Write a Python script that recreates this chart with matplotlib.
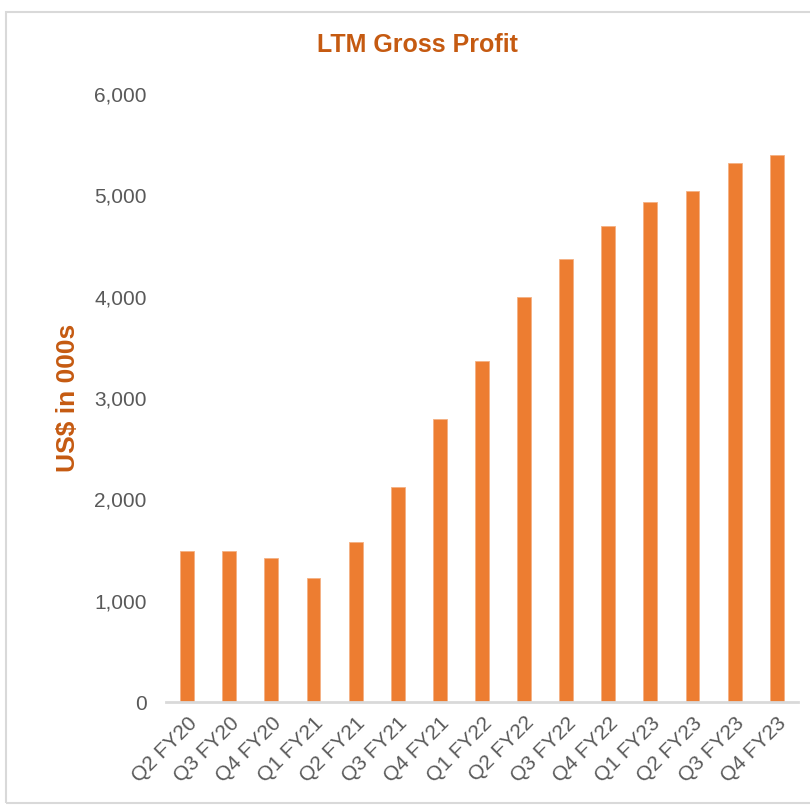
import matplotlib
matplotlib.use("Agg")
import matplotlib.pyplot as plt
from matplotlib.patches import Rectangle
from matplotlib.ticker import FuncFormatter

categories = ["Q2 FY20", "Q3 FY20", "Q4 FY20", "Q1 FY21", "Q2 FY21", "Q3 FY21",
              "Q4 FY21", "Q1 FY22", "Q2 FY22", "Q3 FY22", "Q4 FY22", "Q1 FY23",
              "Q2 FY23", "Q3 FY23", "Q4 FY23"]
gross_profit = [1490, 1490, 1420, 1225, 1580, 2120, 2795, 3365, 3995, 4370,
                4700, 4935, 5045, 5320, 5400]
y_ticks = [0, 1000, 2000, 3000, 4000, 5000, 6000]

plt.rcParams['font.family'] = ['Liberation Sans', 'DejaVu Sans']

fig = plt.figure(figsize=(8.10, 8.07), dpi=100)
fig.patches.append(Rectangle((0.008, 0.005), 1.2, 0.98, transform=fig.transFigure,
                             fill=False, edgecolor="#D9D9D9", linewidth=1.5))
ax = fig.add_axes([0.205, 0.130, 0.780, 0.7535])

x = list(range(len(categories)))
ax.bar(x, gross_profit, width=0.33, color="#ED7D31", edgecolor="#F4B183", linewidth=0.6)

ax.set_xlim(-0.5, len(categories) - 0.5)
ax.set_ylim(0, 6000)
ax.set_yticks(y_ticks)
ax.yaxis.set_major_formatter(FuncFormatter(lambda v, p: f"{int(v):,}"))
ax.set_xticks(x)
ax.set_xticklabels(categories, rotation=45, ha="right", rotation_mode="anchor")

for s in ["top", "right", "left"]:
    ax.spines[s].set_visible(False)
ax.spines["bottom"].set_color("#D9D9D9")
ax.spines["bottom"].set_linewidth(2)
ax.tick_params(axis="both", length=0, colors="#595959", labelsize=15)
ax.tick_params(axis="y", pad=14)
ax.tick_params(axis="x", pad=8)

fig.text(0.515, 0.944, "LTM Gross Profit", ha="center", va="center",
         fontsize=18, fontweight="bold", color="#C55A11")
ax.set_ylabel("US$ in 000s", fontsize=19, fontweight="bold", color="#C55A11", labelpad=10)

fig.savefig("out.png", dpi=100, facecolor="white")
